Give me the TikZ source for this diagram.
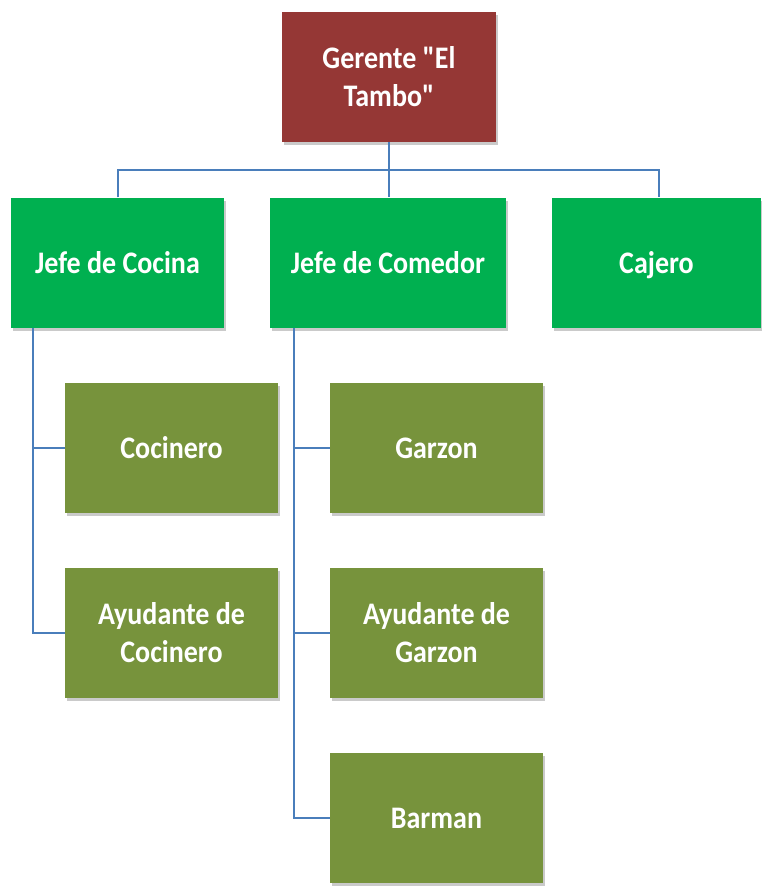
\documentclass[tikz,border=0pt]{standalone}
\usepackage{fontspec}
\setmainfont{Carlito}
\usetikzlibrary{shadows}
\definecolor{boss}{HTML}{953735}
\definecolor{mgr}{HTML}{00B050}
\definecolor{staff}{HTML}{77933C}
\definecolor{conn}{HTML}{4A7EBB}
\newcommand{\lbl}[1]{\raisebox{-3pt}[\height][\depth]{\scalebox{1}[1.12]{\begin{tabular}{@{}c@{}}#1\end{tabular}}}}
\tikzset{
  box/.style={draw=none, minimum width=213pt, minimum height=130pt, inner sep=0pt,
    text=white, font=\fontsize{28}{34}\selectfont\bfseries, align=center,
    drop shadow={shadow xshift=2pt, shadow yshift=-3pt, opacity=0.35, fill=black!60}},
  link/.style={draw=conn, line width=2.2pt}
}
\begin{document}
\begin{tikzpicture}[x=1pt,y=-1pt]
\useasboundingbox (0,0) rectangle (761,886);
\coordinate (hL) at (118,170);
\coordinate (hM) at (389,170);
\coordinate (hR) at (659,170);
\coordinate (vL) at (33,0);
\coordinate (vM) at (294,0);
\node[box, fill=boss, minimum width=214pt] (g) at (389,77) {\lbl{Gerente \textquotedbl El\\Tambo\textquotedbl}};
\node[box, fill=mgr] (jc) at (117.5,262.5) {\lbl{Jefe de Cocina}};
\node[box, fill=mgr, minimum width=236pt] (jm) at (388,262.5) {\lbl{Jefe de Comedor}};
\node[box, fill=mgr, minimum width=209pt] (ca) at (656.5,262.5) {\lbl{Cajero}};
\node[box, fill=staff] (co) at (171.5,448) {\lbl{Cocinero}};
\node[box, fill=staff] (ac) at (171.5,633) {\lbl{Ayudante de\\Cocinero}};
\node[box, fill=staff] (ga) at (436.5,448) {\lbl{Garzon}};
\node[box, fill=staff] (ag) at (436.5,633) {\lbl{Ayudante de\\Garzon}};
\node[box, fill=staff] (ba) at (436.5,818) {\lbl{Barman}};
\draw[link] (g.south) -- (hM);
\draw[link] (jc.north -| hL) |- (hR) -- (ca.north -| hR);
\draw[link] (hM) -- (jm.north -| hM);
\draw[link] (jc.south -| vL) |- (co.west);
\draw[link] (co.west -| vL) |- (ac.west);
\draw[link] (jm.south -| vM) |- (ga.west);
\draw[link] (ga.west -| vM) |- (ag.west);
\draw[link] (ag.west -| vM) |- (ba.west);
\end{tikzpicture}
\end{document}
